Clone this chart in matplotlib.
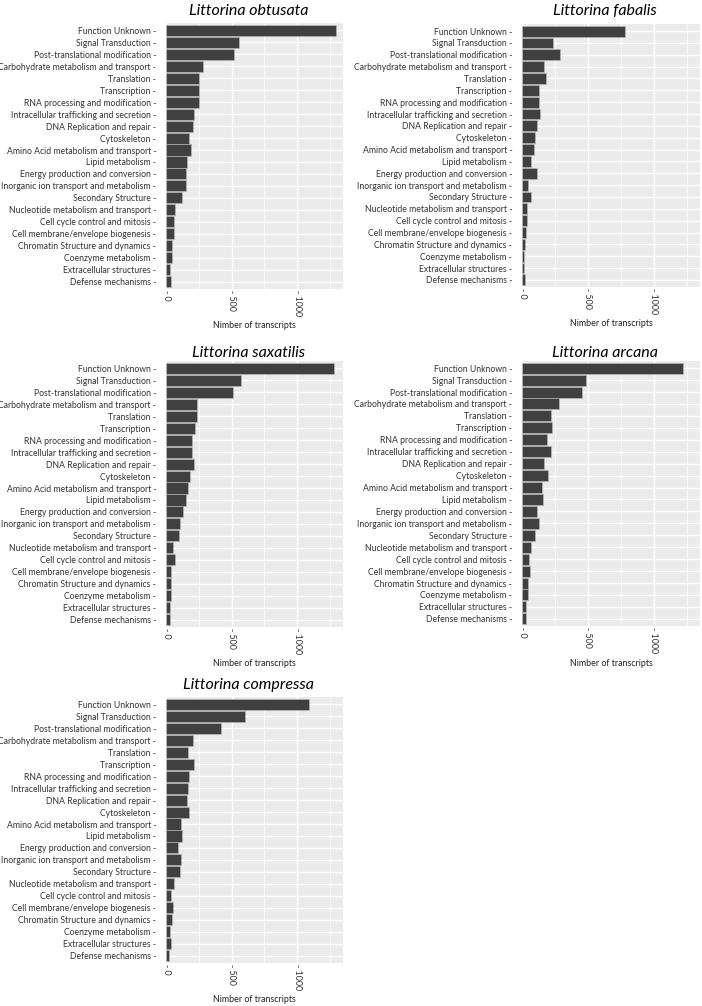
import numpy as np
import matplotlib
matplotlib.use("Agg")
import matplotlib.pyplot as plt

categories = [
    "Function Unknown", "Signal Transduction", "Post-translational modification",
    "Carbohydrate metabolism and transport", "Translation", "Transcription",
    "RNA processing and modification", "Intracellular trafficking and secretion",
    "DNA Replication and repair", "Cytoskeleton", "Amino Acid metabolism and transport",
    "Lipid metabolism", "Energy production and conversion",
    "Inorganic ion transport and metabolism", "Secondary Structure",
    "Nucleotide metabolism and transport", "Cell cycle control and mitosis",
    "Cell membrane/envelope biogenesis", "Chromatin Structure and dynamics",
    "Coenzyme metabolism", "Extracellular structures", "Defense mechanisms",
]

obtusata = [1293, 557, 522, 280, 254, 252, 249, 216, 204, 176, 188,
            163, 155, 153, 125, 71, 59, 61, 43, 43, 33, 41]
fabalis = [783, 237, 290, 164, 184, 131, 129, 136, 114, 98, 91,
           71, 114, 43, 71, 38, 38, 30, 25, 15, 15, 20]
saxatilis = [1280, 570, 514, 234, 239, 224, 199, 196, 214, 183, 165,
             150, 132, 107, 102, 56, 66, 38, 41, 41, 33, 28]
arcana = [1220, 489, 454, 282, 219, 224, 189, 219, 169, 199, 154,
          156, 116, 126, 96, 71, 55, 63, 43, 48, 33, 28]
compressa = [1090, 602, 419, 203, 165, 213, 178, 168, 157, 178, 114,
             119, 91, 112, 107, 58, 41, 51, 46, 33, 36, 20]

species = ["Littorina obtusata", "Littorina fabalis", "Littorina saxatilis",
           "Littorina arcana", "Littorina compressa"]
counts = [obtusata, fabalis, saxatilis, arcana, compressa]
x_ticks = [0, 500, 1000]

W, H = 702, 1006
# panel boxes in pixels: x0, x1, y0, y1 (top-left origin), title baseline
panels = [(166, 343, 23, 289, 15),
          (522, 700, 24, 287, 15),
          (166, 343, 361, 627, 357),
          (522, 700, 361, 626, 357),
          (166, 343, 697, 963, 689)]

plt.rcParams['font.family'] = ['Lato', 'DejaVu Sans']

fig = plt.figure(figsize=(W / 100, H / 100), dpi=100)

n = len(categories)
ypos = np.arange(n)[::-1] + 1

for name, vals, (x0, x1, y0, y1, tb) in zip(species, counts, panels):
    ax = fig.add_axes([x0 / W, 1 - y1 / H, (x1 - x0) / W, (y1 - y0) / H])
    ax.set_facecolor('#EBEBEB')
    ax.set_xlim(0, 1350)
    ax.set_ylim(0.4, n + 0.6)
    for v in [250, 750, 1250]:
        ax.axvline(v, color='white', lw=0.5, zorder=0)
    for v in x_ticks:
        ax.axvline(v, color='white', lw=1.0, zorder=0)
    for y in ypos:
        ax.axhline(y, color='white', lw=1.0, zorder=0)
    ax.barh(ypos, vals, height=0.92, color='#404040', edgecolor='#BDBDBD',
            linewidth=0.4, zorder=2)
    ax.set_yticks(ypos)
    ax.set_yticklabels([c + " -" for c in categories], fontsize=6.2, color='#333333')
    ax.set_xticks(x_ticks)
    ax.set_xticklabels(["- " + str(t) for t in x_ticks], rotation=-90,
                       fontsize=6.4, color='#333333')
    ax.tick_params(axis='y', length=0, pad=7)
    ax.tick_params(axis='x', length=0, pad=1)
    for s in ax.spines.values():
        s.set_visible(False)
    xc = (x0 + x1) / 2
    fig.text((xc - 6) / W, 1 - tb / H, name, fontsize=11.5, style='italic',
             ha='center', va='baseline', color='black')
    fig.text(xc / W, 1 - (y1 + 37) / H, "Nimber of transcripts", fontsize=6.4,
             ha='center', va='center', color='#222222')

fig.savefig("out.png", dpi=100)
